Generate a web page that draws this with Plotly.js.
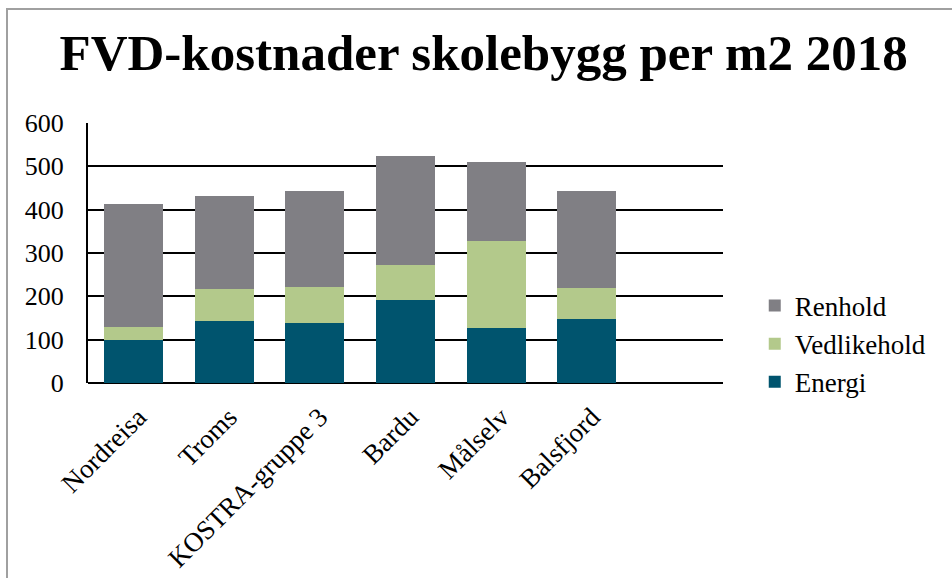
<!DOCTYPE html>
<html>
<head>
<meta charset="utf-8">
<script src="https://cdn.plot.ly/plotly-3.0.1.min.js"></script>
<style>
html,body{margin:0;padding:0;background:#fff;}
#wrap{position:relative;width:952px;height:578px;overflow:hidden;}
#chart{width:952px;height:578px;}
#frame{position:absolute;left:6px;top:8px;width:960px;height:600px;border-left:2px solid #a0a0a0;border-top:2px solid #a0a0a0;pointer-events:none;}
</style>
</head>
<body>
<div id="wrap"><div id="chart"></div><div id="frame"></div></div>
<script>
const categories = ["Nordreisa", "Troms", "KOSTRA-gruppe 3", "Bardu", "Målselv", "Balsfjord", " "];
const energi      = [100, 144, 139, 192, 128, 148, null];
const vedlikehold = [30, 74, 83, 81, 200, 72, null];
const renhold     = [284, 214, 220, 252, 182, 222, null];
const yTicks = [0, 100, 200, 300, 400, 500, 600];

const FONT = "Liberation Serif, DejaVu Serif, serif";

const traces = [
  {type:"bar", name:"Energi", legendgroup:"e", legendrank:3, x:categories, y:energi, marker:{color:"#00546E"}, hoverinfo:"y+name"},
  {type:"bar", name:"Vedlikehold", legendgroup:"v", legendrank:2, x:categories, y:vedlikehold, marker:{color:"#B3C98B"}, hoverinfo:"y+name"},
  {type:"bar", name:"Renhold", legendgroup:"r", legendrank:1, x:categories, y:renhold, marker:{color:"#807F84"}, hoverinfo:"y+name"}
];

const layout = {
  width:952, height:578,
  paper_bgcolor:"#fff", plot_bgcolor:"#fff",
  barmode:"stack", bargap:0.35,
  margin:{l:88, r:229, t:123, b:195},
  title:{text:"<b>FVD-kostnader skolebygg per m2 2018</b>", font:{family:FONT, size:51, color:"#000"}, x:0.508, xanchor:"center", y:0.91, yanchor:"middle"},
  font:{family:FONT, color:"#000"},
  xaxis:{
    type:"category", range:[-0.5, 6.5], tickangle:-45, tickfont:{family:FONT, size:27, color:"#000"},
    showline:false, showgrid:false, ticks:"", zeroline:false, ticklabelstandoff:12, ticklabelshift:5
  },
  yaxis:{
    range:[0, 600], tickvals:yTicks, ticktext:yTicks.map(String),
    tickfont:{family:FONT, size:26, color:"#000"},
    showgrid:true, gridcolor:"#000", gridwidth:2,
    zeroline:true, zerolinecolor:"#000", zerolinewidth:2,
    showline:true, linecolor:"#000", linewidth:2,
    ticks:"", ticklabelstandoff:17, fixedrange:true
  },
  legend:{
    x:1.05, xanchor:"left", y:0.15, yanchor:"middle",
    traceorder:"normal", font:{family:FONT, size:27, color:"#000"},
    tracegroupgap:4, itemwidth:30, bgcolor:"rgba(0,0,0,0)"
  },
  showlegend:true
};

Plotly.newPlot("chart", traces, layout, {displayModeBar:false, staticPlot:true});
</script>
</body>
</html>
